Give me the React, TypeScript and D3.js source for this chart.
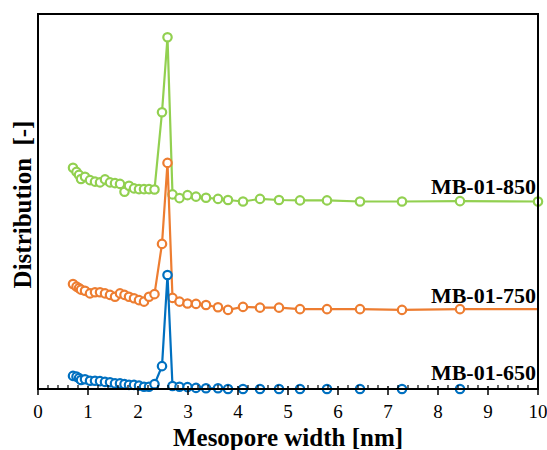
import React from "react";
import * as d3 from "d3";

// pore widths (nm), shared by all three samples
const widths = [
  0.7, 0.77, 0.82, 0.86, 0.94, 1.04, 1.14, 1.24, 1.34, 1.44, 1.54, 1.64, 1.73,
  1.82, 1.92, 2.02, 2.12, 2.22, 2.33, 2.48, 2.59, 2.69, 2.83, 2.99, 3.16, 3.36,
  3.6, 3.8, 4.1, 4.44, 4.82, 5.24, 5.78, 6.44, 7.28, 8.44, 10,
];

const mb850 = [
  0.59, 0.579, 0.571, 0.56, 0.566, 0.557, 0.553, 0.551, 0.559, 0.551, 0.549,
  0.547, 0.526, 0.542, 0.535, 0.533, 0.533, 0.533, 0.532, 0.738, 0.938, 0.519,
  0.509, 0.517, 0.513, 0.51, 0.507, 0.504, 0.5, 0.507, 0.504, 0.503, 0.503, 0.5,
  0.5, 0.501, 0.5,
];

const mb750 = [
  0.28, 0.273, 0.269, 0.265, 0.262, 0.255, 0.258, 0.258, 0.255, 0.251, 0.246,
  0.255, 0.251, 0.246, 0.242, 0.237, 0.233, 0.246, 0.253, 0.387, 0.603, 0.243,
  0.233, 0.228, 0.227, 0.224, 0.218, 0.211, 0.219, 0.217, 0.217, 0.213, 0.213,
  0.213, 0.211, 0.213, 0.213,
];

const mb650 = [
  0.035, 0.033, 0.029, 0.024, 0.026, 0.022, 0.022, 0.021, 0.019, 0.018, 0.015,
  0.015, 0.013, 0.011, 0.011, 0.009, 0.006, 0.006, 0.013, 0.061, 0.304, 0.008,
  0.006, 0.005, 0.003, 0.002, 0.002, 0, 0, 0, 0, 0, 0, 0, 0, 0, 0,
];

const seriesNames = ["MB-01-850", "MB-01-750", "MB-01-650"];
const seriesColors = ["#92D050", "#ED7D31", "#0070C0"];
const xTicks = [0, 1, 2, 3, 4, 5, 6, 7, 8, 9, 10];

const W = 547;
const H = 450;
const margin = { top: 14, right: 9, bottom: 61, left: 38 };
const serif = { fontFamily: '"Liberation Serif", "DejaVu Serif", serif' };

export default function App() {
  const x = d3.scaleLinear().domain([0, 10]).range([margin.left, W - margin.right]);
  const y = d3.scaleLinear().domain([0, 1]).range([H - margin.bottom, margin.top]);
  const x0 = x(0), x1 = x(10), yb = y(0), yt = y(1);

  const all = [mb850, mb750, mb650];
  const line = d3
    .line<number>()
    .x((_, i) => x(widths[i]))
    .y((d) => y(d));

  const minor = d3.range(0, 10.001, 0.2).filter((v) => Math.abs(v - Math.round(v)) > 0.01);
  const labelY = [y(0.52), y(0.229), y(0.024)];

  return (
    <svg width={W} height={H} style={{ position: "absolute", left: 0, top: 0, background: "#fff" }}>
      {all.map((vals, s) => (
        <g key={s}>
          <path d={line(vals) || ""} fill="none" stroke={seriesColors[s]} strokeWidth={2.2} />
          {vals.map((v, i) =>
            s > 0 && widths[i] >= 10 ? null : (
              <circle key={i} cx={x(widths[i])} cy={y(v)} r={4.2} fill="#fff" stroke={seriesColors[s]} strokeWidth={2.2} />
            )
          )}
        </g>
      ))}
      <rect x={x0} y={yt} width={x1 - x0} height={yb - yt} fill="none" stroke="#000" strokeWidth={2} />
      {minor.map((v) => (
        <line key={"m" + v} x1={x(v)} x2={x(v)} y1={yb - 4} y2={yb} stroke="#000" strokeWidth={1.2} />
      ))}
      {xTicks.map((v) => (
        <g key={v}>
          <line x1={x(v)} x2={x(v)} y1={yb - 3} y2={yb + 6} stroke="#000" strokeWidth={1.5} />
          <text x={x(v)} y={418} textAnchor="middle" style={serif} fontSize={19}>
            {v}
          </text>
        </g>
      ))}
      {seriesNames.map((n, s) => (
        <text key={n} x={536} y={labelY[s]} textAnchor="end" style={serif} fontWeight="bold" fontSize={22}>
          {n}
        </text>
      ))}
      <text x={(x0 + x1) / 2} y={446} textAnchor="middle" style={serif} fontWeight="bold" fontSize={25}>
        Mesopore width [nm]
      </text>
      <text
        transform={`translate(31,${(yt + yb) / 2 + 3}) rotate(-90)`}
        textAnchor="middle"
        style={{ ...serif, wordSpacing: 6 }}
        fontWeight="bold"
        fontSize={25}
      >
        Distribution [-]
      </text>
    </svg>
  );
}
